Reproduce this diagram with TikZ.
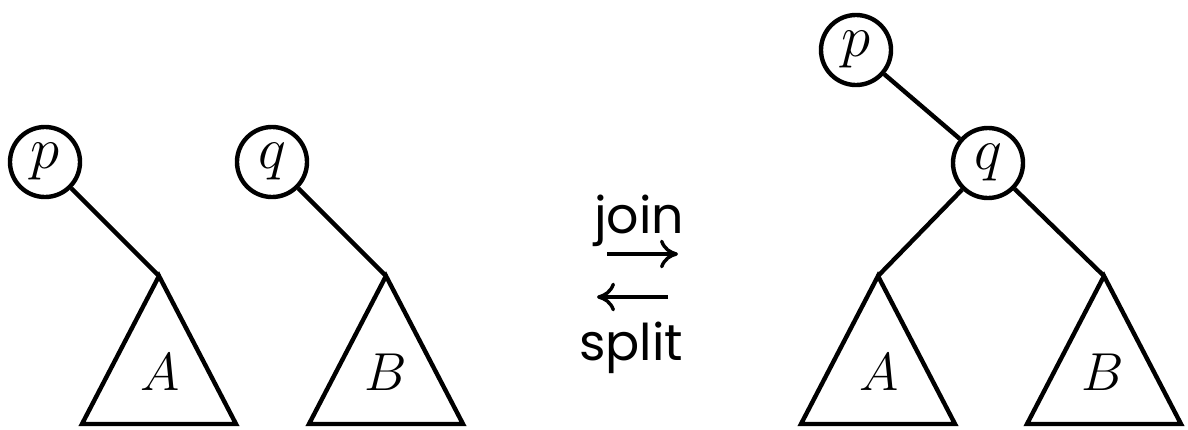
\documentclass[tikz,border=0pt]{standalone}
\usepackage{fix-cm}
\usepackage{fontspec}
\usetikzlibrary{arrows.meta}
\newfontfamily\labfont{Poppins}
\begin{document}
\begin{tikzpicture}[x=0.025cm,y=-0.025cm,
  vert/.style={circle,draw,line width=0.11cm,minimum size=1.75cm,inner sep=0pt,font=\fontsize{42}{48}\selectfont},
  edge/.style={line width=0.11cm},
  tri/.style={line width=0.11cm,line join=miter},
  sub/.style={inner sep=0pt,font=\fontsize{38}{44}\selectfont},
  word/.style={inner sep=0pt,anchor=base,font=\labfont\fontsize{36}{42}\selectfont},
  opArrow/.style={line width=0.085cm,-{Computer Modern Rightarrow[length=0.45cm,width=0.72cm]}}]
\useasboundingbox (0,0) rectangle (1188,429);
% left trees
\node[vert] (p1) at (45,162) {$p$};
\node[vert] (q1) at (272,162) {$q$};
\coordinate (a1) at (159,276);
\coordinate (a1l) at (82,424);
\coordinate (a1r) at (236,424);
\coordinate (b1) at (386,276);
\coordinate (b1l) at (309,424);
\coordinate (b1r) at (463,424);
\draw[edge] (p1) -- (a1);
\draw[edge] (q1) -- (b1);
\draw[tri] (a1) -- (a1l) -- (a1r) -- cycle;
\draw[tri] (b1) -- (b1l) -- (b1r) -- cycle;
\node[sub] (la1) at (160,372) {$A$};
\node[sub] (lb1) at (386,372) {$B$};
% middle
\node[word] (join) at (639,233) {join};
\node[word] (split) at (631,360) {split};
\coordinate (r1) at (607,254);
\coordinate (r2) at (678,254);
\coordinate (l1) at (668,297);
\coordinate (l2) at (597,297);
\draw[opArrow] (r1) -- (r2);
\draw[opArrow] (l1) -- (l2);
% right tree
\node[vert] (p2) at (856,50) {$p$};
\node[vert] (q2) at (988,163) {$q$};
\coordinate (a2) at (878,276);
\coordinate (a2l) at (801,424);
\coordinate (a2r) at (955,424);
\coordinate (b2) at (1104,276);
\coordinate (b2l) at (1027,424);
\coordinate (b2r) at (1181,424);
\draw[edge] (p2) -- (q2);
\draw[edge] (q2) -- (a2);
\draw[edge] (q2) -- (b2);
\draw[tri] (a2) -- (a2l) -- (a2r) -- cycle;
\draw[tri] (b2) -- (b2l) -- (b2r) -- cycle;
\node[sub] (la2) at (879,372) {$A$};
\node[sub] (lb2) at (1103,372) {$B$};
\end{tikzpicture}
\end{document}
